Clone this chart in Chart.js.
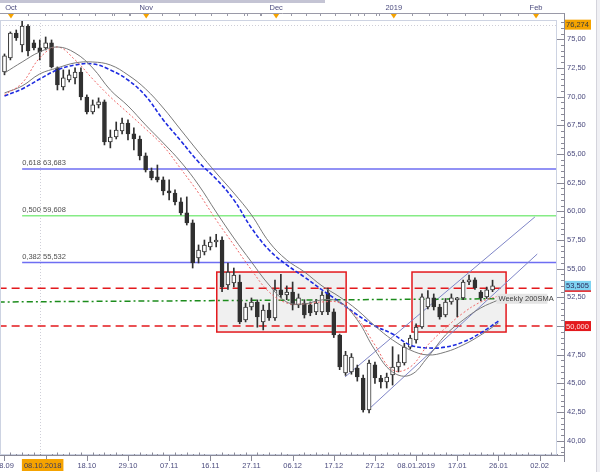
<!DOCTYPE html>
<html>
<head>
<meta charset="utf-8">
<script src="https://cdn.jsdelivr.net/npm/chart.js@4.4.0/dist/chart.umd.min.js"></script>
<style>
  html, body { margin: 0; padding: 0; background: #fff; }
  canvas { display: block; }
</style>
</head>
<body>
<canvas id="oilChart" width="600" height="472"></canvas>
<script>
// daily candles, bar index 0 = 28.09
const candleOpen = [72.15, 73.37, 75.55, 74.51, 76.16, 74.68, 74.25, 74.25, 74.68, 72.50,
  70.84, 71.45, 71.63, 72.15, 69.97, 68.66, 69.28, 69.54, 66.05, 66.48,
  67.01, 67.70, 66.75, 66.31, 64.83, 63.52, 63.00, 62.74, 61.78, 61.60,
  60.82, 59.86, 58.99, 55.94, 56.46, 56.89, 57.33, 57.50, 53.58, 53.76,
  53.84, 50.53, 51.66, 52.10, 50.36, 51.40, 50.70, 53.15, 52.71, 52.97,
  51.84, 52.01, 51.84, 51.23, 51.23, 52.89, 51.23, 49.22, 45.91, 46.00,
  46.34, 45.47, 42.68, 46.61, 45.47, 45.13, 45.73, 46.43, 46.78, 48.17,
  48.79, 49.92, 51.66, 52.45, 51.66, 50.97, 52.10, 52.28, 52.45, 53.84,
  54.02, 52.97, 52.54, 53.15];
const candleHigh = [73.72, 75.64, 75.81, 76.90, 76.28, 74.94, 74.94, 75.20, 74.94, 72.59,
  72.33, 72.33, 72.50, 72.50, 70.15, 69.71, 69.89, 69.71, 67.09, 67.79,
  68.14, 67.97, 67.27, 66.57, 65.09, 63.78, 64.04, 63.00, 62.74, 61.87,
  61.17, 61.26, 59.25, 57.07, 57.50, 57.77, 58.00, 57.77, 55.50, 55.06,
  54.45, 52.00, 52.45, 52.28, 51.84, 52.00, 54.00, 54.50, 53.50, 53.84,
  52.80, 52.30, 52.10, 52.30, 53.00, 53.30, 51.50, 49.30, 47.80, 47.60,
  46.60, 45.73, 47.04, 46.87, 45.70, 45.90, 48.20, 47.50, 48.50, 49.20,
  50.20, 52.80, 53.10, 52.80, 51.90, 52.40, 52.80, 52.50, 54.00, 54.45,
  54.20, 53.10, 53.40, 54.00];
const candleLow = [71.90, 73.20, 74.90, 73.90, 73.55, 74.07, 73.20, 74.07, 72.50, 70.58,
  70.58, 71.28, 71.11, 69.71, 68.49, 68.49, 69.01, 65.79, 65.53, 66.31,
  66.75, 66.22, 65.35, 64.48, 63.43, 62.74, 62.56, 61.43, 61.00, 60.56,
  59.69, 58.81, 55.06, 55.50, 56.20, 56.63, 56.90, 53.00, 53.20, 53.41,
  50.20, 50.36, 51.40, 49.90, 49.66, 50.50, 50.50, 52.45, 52.30, 51.40,
  51.60, 50.70, 50.90, 51.00, 51.00, 51.00, 49.00, 46.20, 45.70, 45.80,
  45.20, 42.50, 42.42, 45.00, 44.60, 44.60, 44.86, 46.00, 46.60, 48.00,
  48.50, 49.80, 51.50, 51.40, 50.60, 50.80, 51.90, 50.80, 52.30, 53.60,
  53.20, 52.20, 52.40, 53.00];
const candleClose = [73.55, 75.55, 75.12, 76.16, 73.98, 74.25, 73.90, 74.68, 72.59, 71.02,
  71.63, 71.89, 72.15, 69.97, 68.66, 69.28, 69.54, 66.05, 66.48, 67.09,
  67.70, 66.75, 66.31, 64.83, 63.61, 62.91, 62.74, 61.78, 61.60, 60.82,
  59.86, 58.99, 55.50, 56.63, 57.07, 57.33, 57.50, 53.41, 54.71, 54.45,
  50.36, 51.66, 52.10, 50.79, 51.40, 50.70, 53.15, 52.71, 52.97, 51.84,
  52.45, 50.97, 51.14, 52.01, 52.71, 51.23, 49.22, 46.43, 47.48, 47.30,
  45.56, 42.68, 46.78, 45.47, 45.13, 45.56, 46.43, 46.87, 48.17, 48.96,
  49.92, 52.54, 52.45, 51.66, 50.79, 52.10, 52.45, 52.45, 53.84, 54.02,
  53.32, 52.45, 53.15, 53.505];

// moving averages read every 3 bars
const maIndex = [0, 3, 6, 9, 12, 15, 18, 21, 24, 27, 30, 33, 36, 39, 42, 45, 48, 51, 54, 57, 60, 63, 66, 69, 72, 75, 78, 81, 84];
const maFast = [70.15, 71.19, 73.37, 74.33, 73.20, 71.54, 69.97, 68.58, 67.18, 65.70, 63.69, 61.60, 59.25, 57.07, 54.89,
  52.97, 52.01, 51.93, 52.10, 52.01, 50.70, 48.35, 46.17, 46.43, 48.35, 49.83, 51.14, 52.10, 52.62];
const maFastGray = [72.06, 73.02, 73.90, 74.33, 73.81, 72.50, 70.58, 69.19, 67.53, 65.96, 64.30, 62.30, 59.94, 57.68, 55.59,
  53.58, 52.10, 51.93, 52.28, 52.10, 50.53, 47.91, 45.99, 45.73, 47.30, 49.22, 50.53, 51.58, 52.28];
const maSlow = [70.06, 70.67, 71.54, 72.33, 72.76, 72.85, 72.33, 71.45, 70.06, 67.97, 66.14, 64.30, 62.82, 61.00, 58.55,
  56.63, 55.33, 54.28, 53.15, 52.10, 50.97, 50.01, 49.31, 48.35, 48.09, 48.17, 48.61, 49.40, 50.44];
const maSlowGray = [70.32, 70.93, 71.98, 72.50, 72.94, 73.02, 72.76, 71.89, 70.67, 69.01, 67.09, 65.18, 63.35, 61.60, 59.69,
  57.33, 55.76, 54.72, 53.50, 52.54, 51.40, 50.01, 48.79, 47.91, 47.48, 47.74, 48.35, 49.22, 50.27];

// weekly 200 SMA
const sma200Index = [-1, 30, 60, 84];
const sma200Value = [52.10, 52.20, 52.30, 52.38];

// fibonacci retracement
const fibNames = ['0,618', '0,500', '0,382'];
const fibLevels = [63.683, 59.608, 55.532];
const fibColors = ['#6e6ef2', '#86ec86', '#6e6ef2'];
const fibStart = 3;

// support / resistance
const redLevels = [53.3, 50.0];

// consolidation boxes
const boxStart = [36.1, 69.3];
const boxEnd = [58.1, 85.3];
const boxTop = [54.71, 54.71];
const boxBottom = [49.48, 49.48];

// rising channel
const trendUpper = [[57.9, 45.56], [90.2, 59.51]];
const trendLower = [[61.8, 42.68], [90.6, 56.28]];

// axis labels
const dateTicks = ['28.09', '08.10.2018', '18.10', '29.10', '07.11', '16.11', '27.11', '06.12', '17.12', '27.12', '08.01.2019', '17.01', '26.01', '02.02'];
const monthNames = ['Oct', 'Nov', 'Dec', '2019', 'Feb'];
const monthIndex = [1.1, 24.1, 46.2, 66.2, 90.4];
const lastPrice = 53.505;
const highMark = 76.274;
const crossIndex = 6.1;

const fmt = (v, d) => v.toFixed(d).replace('.', ',');
const axisFont = '7.5px "Liberation Sans", Arial, sans-serif';
const axisColor = '#4b4b7e';

const candleBodies = candleOpen.map((o, i) => ({ x: i, y: [o, candleClose[i]] }));
const candleWicks = candleOpen.map((o, i) => ({ x: i, y: [candleLow[i], candleHigh[i]] }));
const pts = (idx, vals) => idx.map((k, i) => ({ x: k, y: vals[i] }));
const pairPts = (p) => p.map(q => ({ x: q[0], y: q[1] }));

const lineSet = (data, color, width, dash, order, tension) => ({
  type: 'line', data, borderColor: color, borderWidth: width, borderDash: dash,
  pointRadius: 0, tension: tension || 0, fill: false, order
});

const datasets = [
  {
    type: 'bar', data: candleWicks, backgroundColor: '#303030', barThickness: 1,
    grouped: false, order: 3
  },
  {
    type: 'bar', data: candleBodies,
    backgroundColor: candleOpen.map((o, i) => candleClose[i] >= o ? '#ffffff' : '#303030'),
    borderColor: '#303030', borderWidth: 1, borderSkipped: false, barThickness: 4,
    grouped: false, order: 2
  },
  lineSet(pts(maIndex, maFastGray), '#7a7a7a', 1, [], 1, 0.4),
  lineSet(pts(maIndex, maFast), '#f06a6a', 1, [2, 2], 1, 0.4),
  lineSet(pts(maIndex, maSlowGray), '#7a7a7a', 1, [], 1, 0.4),
  lineSet(pts(maIndex, maSlow), '#1d2be0', 1.6, [4, 2], 1, 0.4),
  lineSet(pts(sma200Index, sma200Value), '#1c8c1c', 1.5, [6, 3, 2, 3], 4, 0.4),
  lineSet(pairPts(trendUpper), '#7f86c8', 1, [], 4),
  lineSet(pairPts(trendLower), '#7f86c8', 1, [], 4)
];
fibLevels.forEach((v, i) => {
  datasets.push(lineSet([{ x: fibStart, y: v }, { x: 94, y: v }], fibColors[i], 1.5, [], 5));
});
redLevels.forEach(v => {
  datasets.push(lineSet([{ x: -1, y: v }, { x: 94, y: v }], '#e3191d', 1.5, [8, 5], 5));
});

const decor = {
  id: 'decor',
  beforeDraw(chart) {
    const { ctx, scales: { x, y }, chartArea: a } = chart;
    ctx.save();
    ctx.fillStyle = '#ffffff';
    ctx.fillRect(0, 0, chart.width, chart.height);
    // crosshair
    ctx.strokeStyle = '#cfcfd8';
    ctx.lineWidth = 1;
    ctx.setLineDash([1, 2]);
    const cx = Math.round(x.getPixelForValue(crossIndex)) + 0.5;
    ctx.beginPath(); ctx.moveTo(cx, a.top); ctx.lineTo(cx, a.bottom); ctx.stroke();
    const cy = Math.round(y.getPixelForValue(highMark)) + 0.5;
    ctx.beginPath(); ctx.moveTo(a.left, cy); ctx.lineTo(a.right, cy); ctx.stroke();
    ctx.restore();
  },
  beforeDatasetsDraw(chart) {
    const { ctx, scales: { x, y } } = chart;
    ctx.save();
    for (let i = 0; i < boxStart.length; i++) {
      const x1 = x.getPixelForValue(boxStart[i]), x2 = x.getPixelForValue(boxEnd[i]);
      const y1 = y.getPixelForValue(boxTop[i]), y2 = y.getPixelForValue(boxBottom[i]);
      ctx.fillStyle = 'rgba(205,205,205,0.3)';
      ctx.fillRect(x1, y1, x2 - x1, y2 - y1);
      ctx.strokeStyle = '#e3191d';
      ctx.lineWidth = 1.5;
      ctx.strokeRect(x1, y1, x2 - x1, y2 - y1);
    }
    ctx.restore();
  },
  afterDraw(chart) {
    const { ctx, scales: { x, y }, chartArea: a } = chart;
    ctx.save();
    ctx.font = axisFont;
    ctx.lineWidth = 1;

    // top strip
    ctx.fillStyle = '#c4c4d4';
    ctx.fillRect(0, 0, 325, 3);
    ctx.strokeStyle = '#9a9aa8';
    ctx.beginPath(); ctx.moveTo(0, 13.5); ctx.lineTo(565, 13.5); ctx.stroke();
    for (let m = 0; m < monthIndex.length - 1; m++) {
      const p1 = x.getPixelForValue(monthIndex[m]), p2 = x.getPixelForValue(monthIndex[m + 1]);
      for (let s = -2; s < 8; s++) {
        const px = Math.round(p1 + (p2 - p1) * s / 8) + 0.5;
        if (px < 0 || px > 565) continue;
        ctx.beginPath(); ctx.moveTo(px, 13.5); ctx.lineTo(px, 16); ctx.stroke();
      }
    }
    ctx.textAlign = 'center';
    ctx.textBaseline = 'middle';
    monthNames.forEach((n, i) => {
      const px = x.getPixelForValue(monthIndex[i]);
      ctx.fillStyle = axisColor;
      ctx.fillText(n, px, 8);
      ctx.fillStyle = '#f5a300';
      ctx.beginPath(); ctx.moveTo(px - 3, 14); ctx.lineTo(px + 3, 14); ctx.lineTo(px, 18.5); ctx.closePath(); ctx.fill();
    });

    // plot frame
    ctx.strokeStyle = '#cdd3e2';
    ctx.strokeRect(0.5, 20.5, 556, 434);

    // right axis
    ctx.strokeStyle = '#8a8a98';
    ctx.beginPath(); ctx.moveTo(564.5, 13.5); ctx.lineTo(564.5, 462); ctx.stroke();
    for (let v = 38.5; v <= 76.5; v += 0.5) {
      const py = Math.round(y.getPixelForValue(v)) + 0.5;
      if (py < 20 || py > 458) continue;
      const major = Math.abs(v / 2.5 - Math.round(v / 2.5)) < 1e-6;
      ctx.beginPath(); ctx.moveTo(major ? 557 : 561, py); ctx.lineTo(564.5, py); ctx.stroke();
    }
    ctx.textAlign = 'left';
    ctx.fillStyle = axisColor;
    for (let v = 40; v <= 75; v += 2.5) {
      if (Math.abs(v - 50) < 0.01) continue;
      ctx.fillText(fmt(v, 2), 567, y.getPixelForValue(v));
    }

    // bottom axis
    ctx.strokeStyle = '#8a8a98';
    ctx.beginPath(); ctx.moveTo(0, 455.5); ctx.lineTo(564.5, 455.5); ctx.stroke();
    for (let k = 0; k < 95; k++) {
      const px = Math.round(x.getPixelForValue(k)) + 0.5;
      if (px > 564) continue;
      if (k % 7 === 0) {
        ctx.beginPath(); ctx.moveTo(px, 455.5); ctx.lineTo(px, 461); ctx.stroke();
      } else {
        ctx.beginPath(); ctx.moveTo(px, 455.5); ctx.lineTo(px, k % 2 ? 452.5 : 454); ctx.stroke();
      }
    }
    ctx.textAlign = 'center';
    dateTicks.forEach((t, m) => {
      const px = x.getPixelForValue(7 * m);
      if (m === 1) {
        const w = ctx.measureText(t).width + 4;
        ctx.fillStyle = '#f5a300';
        ctx.fillRect(px - w / 2 - 3, 459, w, 12);
        ctx.fillStyle = '#3a3a60';
        ctx.fillText(t, px - 3, 465.5);
      } else {
        ctx.fillStyle = axisColor;
        ctx.fillText(t, px, 465.5);
      }
    });

    // fibonacci labels
    ctx.textAlign = 'left';
    ctx.textBaseline = 'alphabetic';
    ctx.fillStyle = '#505050';
    fibLevels.forEach((v, i) => {
      ctx.fillText(fibNames[i] + ' ' + fmt(v, 3), x.getPixelForValue(fibStart), y.getPixelForValue(v) - 4);
    });

    // 200 SMA tag
    const ty = y.getPixelForValue(sma200Value[sma200Value.length - 1]);
    const tx = x.getPixelForValue(sma200Index[sma200Index.length - 1]) - 2;
    ctx.fillStyle = '#e4e4e4';
    ctx.fillRect(tx, ty - 5, 51, 10);
    ctx.fillStyle = '#404040';
    ctx.textBaseline = 'middle';
    ctx.fillText('Weekly 200SMA', tx + 2, ty + 0.5);

    // price tags
    const tag = (v, bg, fg, txt) => {
      const py = y.getPixelForValue(v);
      ctx.fillStyle = bg;
      ctx.fillRect(565, py - 5, 26, 10);
      ctx.fillStyle = fg;
      ctx.fillText(txt, 566, py + 0.5);
    };
    tag(highMark, '#f5a300', '#3a3a3a', fmt(highMark, 3));
    tag(lastPrice, '#7fd3f2', '#2a2a5a', fmt(lastPrice, 3));
    ctx.fillStyle = '#e3191d';
    ctx.fillRect(565, y.getPixelForValue(lastPrice) + 4.5, 26, 1.5);
    tag(redLevels[1], '#e3191d', '#ffe0e0', fmt(redLevels[1], 3));

    // right border
    ctx.strokeStyle = '#d4d4dc';
    ctx.beginPath(); ctx.moveTo(596.5, 0); ctx.lineTo(596.5, 472); ctx.stroke();
    ctx.fillStyle = '#f0f0f4';
    ctx.fillRect(597, 0, 3, 472);
    ctx.restore();
  }
};

new Chart(document.getElementById('oilChart'), {
  type: 'bar',
  data: { datasets },
  options: {
    responsive: false,
    animation: false,
    layout: { padding: { left: 0, top: 20, right: 44, bottom: 17 } },
    plugins: { legend: { display: false }, tooltip: { enabled: false } },
    scales: {
      x: { type: 'linear', min: -0.765, max: 93.79, offset: false, display: false },
      y: { type: 'linear', min: 38.76, max: 76.68, display: false }
    }
  },
  plugins: [decor]
});
</script>
</body>
</html>
